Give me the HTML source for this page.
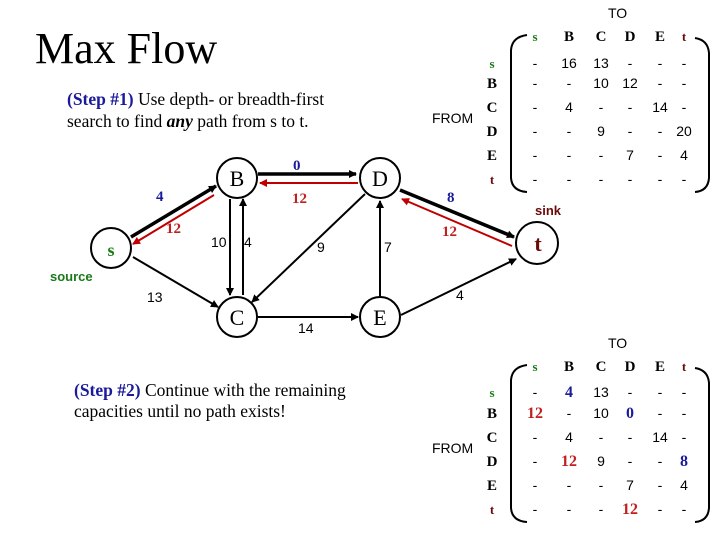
<!DOCTYPE html>
<html><head><style>
html,body{margin:0;padding:0;background:#fff;}
svg{display:block;}
.ser{font-family:"Liberation Serif",serif;}
.san{font-family:"Liberation Sans",sans-serif;}
</style></head><body>
<svg width="720" height="540" viewBox="0 0 720 540" xmlns="http://www.w3.org/2000/svg">
<defs>
<marker id="ak" markerWidth="8" markerHeight="8" refX="7" refY="4" orient="auto" markerUnits="userSpaceOnUse"><path d="M0,0 L8,4 L0,8 z" fill="#000"/></marker>
<marker id="ar" markerWidth="8" markerHeight="8" refX="7" refY="4" orient="auto" markerUnits="userSpaceOnUse"><path d="M0,0 L8,4 L0,8 z" fill="#c00000"/></marker>
</defs>
<text x="35" y="63" class="ser" font-size="44">Max Flow</text>
<text x="67" y="105" class="ser" font-size="17.5"><tspan fill="#1a1a9a" font-weight="bold">(Step #1)</tspan> Use depth- or breadth-first</text>
<text x="67" y="127" class="ser" font-size="17.5">search to find <tspan font-weight="bold" font-style="italic">any</tspan> path from s to t.</text>
<text x="74" y="396" class="ser" font-size="17.5"><tspan fill="#1a1a9a" font-weight="bold">(Step #2)</tspan> Continue with the remaining</text>
<text x="74" y="417" class="ser" font-size="17.5">capacities until no path exists!</text>

<!-- edges -->
<g stroke="#000" fill="none">
<line x1="131" y1="237" x2="216" y2="186" stroke-width="3.5" marker-end="url(#ak)"/>
<line x1="214" y1="195" x2="133" y2="244" stroke="#c00000" stroke-width="2" marker-end="url(#ar)"/>
<line x1="258" y1="174" x2="356" y2="174" stroke-width="3.5" marker-end="url(#ak)"/>
<line x1="358" y1="183" x2="260" y2="183" stroke="#c00000" stroke-width="2" marker-end="url(#ar)"/>
<line x1="400" y1="190" x2="514" y2="237" stroke-width="3.5" marker-end="url(#ak)"/>
<line x1="512" y1="246" x2="402" y2="199" stroke="#c00000" stroke-width="2" marker-end="url(#ar)"/>
<line x1="230" y1="199" x2="230" y2="295" stroke-width="2" marker-end="url(#ak)"/>
<line x1="243" y1="295" x2="243" y2="199" stroke-width="2" marker-end="url(#ak)"/>
<line x1="133" y1="257" x2="218" y2="307" stroke-width="2" marker-end="url(#ak)"/>
<line x1="365" y1="194" x2="252" y2="302" stroke-width="2" marker-end="url(#ak)"/>
<line x1="380" y1="296" x2="380" y2="201" stroke-width="2" marker-end="url(#ak)"/>
<line x1="258" y1="317" x2="358" y2="317" stroke-width="2" marker-end="url(#ak)"/>
<line x1="401" y1="315" x2="516" y2="259" stroke-width="2" marker-end="url(#ak)"/>
</g>
<!-- nodes -->
<g fill="#fff" stroke="#000" stroke-width="2">
<circle cx="111" cy="248" r="20"/>
<circle cx="237" cy="178" r="20"/>
<circle cx="380" cy="178" r="20"/>
<circle cx="237" cy="317" r="20"/>
<circle cx="380" cy="317" r="20"/>
<circle cx="537" cy="243" r="21"/>
</g>
<g class="ser" font-size="22" text-anchor="middle">
<text x="111" y="256" fill="#1a7a1a" font-size="18" font-weight="bold">s</text>
<text x="237" y="186">B</text>
<text x="380" y="186">D</text>
<text x="237" y="325">C</text>
<text x="380" y="325">E</text>
<text x="538" y="251" fill="#6a0a0a" font-weight="bold">t</text>
</g>
<text x="50" y="281" class="san" font-size="13" font-weight="bold" fill="#1a7a1a">source</text>
<text x="535" y="215" class="san" font-size="13" font-weight="bold" fill="#6a0a0a">sink</text>
<!-- edge labels -->
<g class="ser" font-size="15" font-weight="bold">
<text x="156" y="201" fill="#1a1a9a">4</text>
<text x="166" y="233" fill="#c02020">12</text>
<text x="293" y="170" fill="#1a1a9a">0</text>
<text x="292" y="203" fill="#c02020">12</text>
<text x="447" y="202" fill="#1a1a9a">8</text>
<text x="442" y="236" fill="#c02020">12</text>
</g>
<g class="san" font-size="14">
<text x="211" y="247">10</text>
<text x="244" y="247">4</text>
<text x="317" y="252">9</text>
<text x="384" y="252">7</text>
<text x="147" y="302">13</text>
<text x="298" y="333">14</text>
<text x="456" y="300">4</text>
</g>

<!-- matrices -->
<g class="san" font-size="14">
<text x="608" y="18">TO</text>
<text x="432" y="123">FROM</text>
<text x="432" y="453">FROM</text>
<text x="608" y="348">TO</text>
</g>
<g fill="none" stroke="#000" stroke-width="2">
<path d="M527,35 Q512,37 511,50 L511,178 Q512,191 527,192"/>
<path d="M695,38 Q708,40 709,53 L709,178 Q708,191 695,192"/>
<path d="M527,365 Q512,367 511,380 L511,508 Q512,521 527,522"/>
<path d="M695,368 Q708,370 709,383 L709,508 Q708,521 695,522"/>
</g>
<g class="ser" font-size="15" font-weight="bold" text-anchor="middle">
<text x="535" y="41" fill="#1a7a1a" font-size="13">s</text><text x="569" y="41">B</text><text x="601" y="41">C</text><text x="630" y="41">D</text><text x="660" y="41">E</text><text x="684" y="41" fill="#6a0a0a" font-size="13">t</text>
<text x="492" y="68" fill="#1a7a1a" font-size="13">s</text><text x="492" y="88">B</text><text x="492" y="112">C</text><text x="492" y="136">D</text><text x="492" y="160">E</text><text x="492" y="184" fill="#6a0a0a" font-size="13">t</text>
<text x="535" y="371" fill="#1a7a1a" font-size="13">s</text><text x="569" y="371">B</text><text x="601" y="371">C</text><text x="630" y="371">D</text><text x="660" y="371">E</text><text x="684" y="371" fill="#6a0a0a" font-size="13">t</text>
<text x="492" y="397" fill="#1a7a1a" font-size="13">s</text><text x="492" y="418">B</text><text x="492" y="442">C</text><text x="492" y="466">D</text><text x="492" y="490">E</text><text x="492" y="514" fill="#6a0a0a" font-size="13">t</text>
</g>
<g class="san" font-size="14" text-anchor="middle">
<text x="535" y="68">-</text><text x="569" y="68">16</text><text x="601" y="68">13</text><text x="630" y="68">-</text><text x="660" y="68">-</text><text x="684" y="68">-</text>
<text x="535" y="88">-</text><text x="569" y="88">-</text><text x="601" y="88">10</text><text x="630" y="88">12</text><text x="660" y="88">-</text><text x="684" y="88">-</text>
<text x="535" y="112">-</text><text x="569" y="112">4</text><text x="601" y="112">-</text><text x="630" y="112">-</text><text x="660" y="112">14</text><text x="684" y="112">-</text>
<text x="535" y="136">-</text><text x="569" y="136">-</text><text x="601" y="136">9</text><text x="630" y="136">-</text><text x="660" y="136">-</text><text x="684" y="136">20</text>
<text x="535" y="160">-</text><text x="569" y="160">-</text><text x="601" y="160">-</text><text x="630" y="160">7</text><text x="660" y="160">-</text><text x="684" y="160">4</text>
<text x="535" y="184">-</text><text x="569" y="184">-</text><text x="601" y="184">-</text><text x="630" y="184">-</text><text x="660" y="184">-</text><text x="684" y="184">-</text>

<text x="535" y="397">-</text><text x="569" y="397" class="ser" font-weight="bold" fill="#1a1a9a" font-size="16">4</text><text x="601" y="397">13</text><text x="630" y="397">-</text><text x="660" y="397">-</text><text x="684" y="397">-</text>
<text x="535" y="418" class="ser" font-weight="bold" fill="#c02020" font-size="16">12</text><text x="569" y="418">-</text><text x="601" y="418">10</text><text x="630" y="418" class="ser" font-weight="bold" fill="#1a1a9a" font-size="16">0</text><text x="660" y="418">-</text><text x="684" y="418">-</text>
<text x="535" y="442">-</text><text x="569" y="442">4</text><text x="601" y="442">-</text><text x="630" y="442">-</text><text x="660" y="442">14</text><text x="684" y="442">-</text>
<text x="535" y="466">-</text><text x="569" y="466" class="ser" font-weight="bold" fill="#c02020" font-size="16">12</text><text x="601" y="466">9</text><text x="630" y="466">-</text><text x="660" y="466">-</text><text x="684" y="466" class="ser" font-weight="bold" fill="#1a1a9a" font-size="16">8</text>
<text x="535" y="490">-</text><text x="569" y="490">-</text><text x="601" y="490">-</text><text x="630" y="490">7</text><text x="660" y="490">-</text><text x="684" y="490">4</text>
<text x="535" y="514">-</text><text x="569" y="514">-</text><text x="601" y="514">-</text><text x="630" y="514" class="ser" font-weight="bold" fill="#c02020" font-size="16">12</text><text x="660" y="514">-</text><text x="684" y="514">-</text>
</g>
</svg>
</body></html>
